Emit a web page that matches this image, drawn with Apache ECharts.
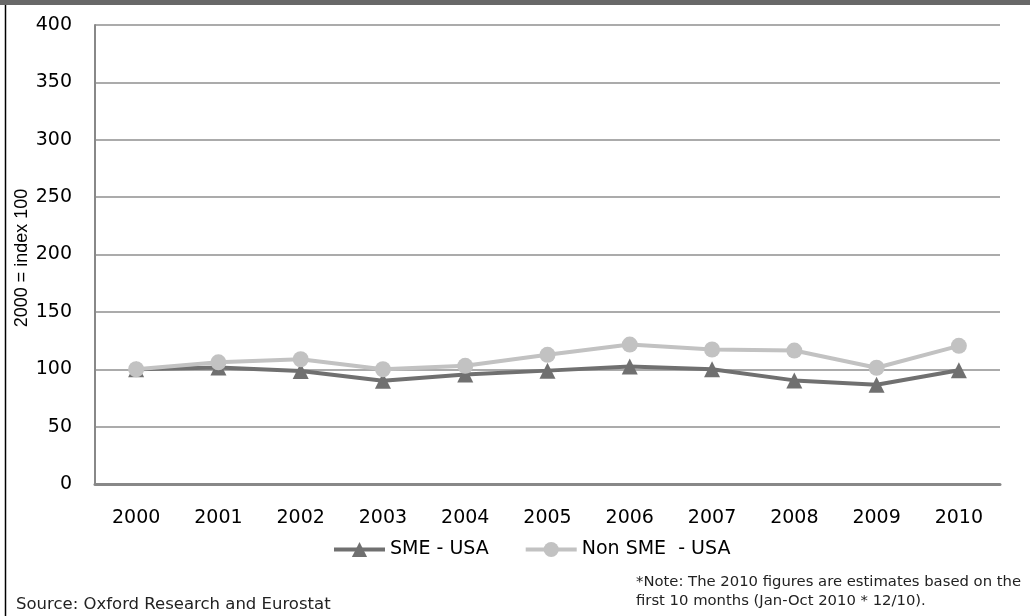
<!DOCTYPE html>
<html>
<head>
<meta charset="utf-8">
<script src="https://cdn.jsdelivr.net/npm/echarts@6/dist/echarts.min.js"></script>
<style>
html,body{margin:0;padding:0;background:#fff;}
#c{width:1033px;height:616px;}
</style>
</head>
<body>
<div id="c"></div>
<script>
var categories = ['2000','2001','2002','2003','2004','2005','2006','2007','2008','2009','2010'];
var smeUSA = [100, 101.5, 98.5, 90, 95.5, 98.8, 102.4, 100, 90.3, 86.5, 99.2];
var nonSmeUSA = [100, 106, 108.7, 100, 103, 112.6, 121.5, 117.2, 116.3, 101.3, 120.4];
var seriesNames = ['SME - USA', 'Non SME  - USA'];
var yAxisTitle = '2000 = index 100';
var sourceText = 'Source: Oxford Research and Eurostat';
var noteLines = ['*Note: The 2010 figures are estimates based on the', 'first 10 months (Jan-Oct 2010 * 12/10).'];

var chart = echarts.init(document.getElementById('c'), null, {renderer:'canvas'});
var font = 'DejaVu Sans';
chart.setOption({
  animation: false,
  backgroundColor: '#fff',
  grid: {left: 95, right: 33, top: 25, bottom: 132, containLabel: false},
  legend: {
    left: 327, top: 535,
    itemWidth: 51, itemHeight: 19, itemGap: 35,
    lineStyle: {width: 4},
    textStyle: {fontFamily: font, fontSize: 19, color: '#000'},
    data: seriesNames
  },
  xAxis: {
    type: 'category', data: categories, boundaryGap: true,
    axisLine: {show: true, lineStyle: {color: '#888', width: 3}},
    axisTick: {show: false},
    axisLabel: {fontFamily: font, fontSize: 19, color: '#000', margin: 25}
  },
  yAxis: {
    type: 'value', min: 0, max: 400, interval: 50,
    axisLine: {show: true, lineStyle: {color: '#888', width: 2}},
    axisTick: {show: false},
    axisLabel: {fontFamily: font, fontSize: 19, color: '#000', margin: 23},
    splitLine: {show: true, lineStyle: {color: '#8f8f8f', width: 1.5}}
  },
  series: [
    {
      name: seriesNames[0], type: 'line', data: smeUSA,
      symbol: 'triangle', symbolSize: 16,
      lineStyle: {color: '#707070', width: 4},
      itemStyle: {color: '#707070'}
    },
    {
      name: seriesNames[1], type: 'line', data: nonSmeUSA,
      symbol: 'circle', symbolSize: 16,
      lineStyle: {color: '#c2c2c2', width: 4},
      itemStyle: {color: '#c2c2c2'}
    }
  ],
  graphic: [
    {type: 'rect', left: 0, top: 0, shape: {width: 1030, height: 5}, style: {fill: '#686868'}, silent: true},
    {type: 'line', shape: {x1: 5.5, y1: 5, x2: 5.5, y2: 616}, style: {stroke: '#000', lineWidth: 1.5}, silent: true},
    {type: 'text', x: 22, y: 258, rotation: Math.PI / 2, style: {text: yAxisTitle, font: '18px "Liberation Sans"', fill: '#000', align: 'center', verticalAlign: 'middle'}},
    {type: 'text', left: 16, top: 596, style: {text: sourceText, font: '16.5px "DejaVu Sans"', fill: '#222'}},
    {type: 'text', left: 636, top: 573, style: {text: noteLines.join('\n'), font: '14.8px "DejaVu Sans"', fill: '#222', lineHeight: 19}}
  ]
});
</script>
</body>
</html>
